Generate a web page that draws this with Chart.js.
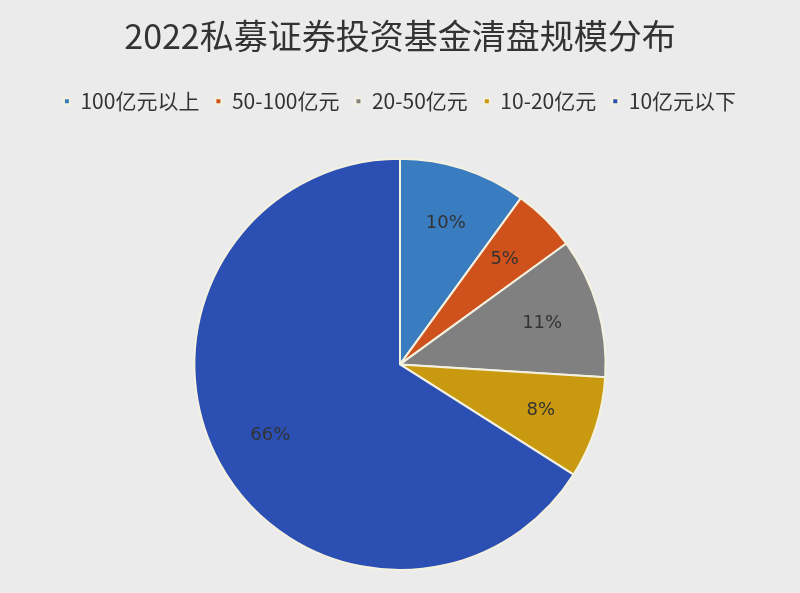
<!DOCTYPE html>
<html>
<head>
<meta charset="utf-8">
<script src="https://cdn.jsdelivr.net/npm/chart.js@4"></script>
<style>
  html, body { margin: 0; padding: 0; background: #ebebeb; }
  #wrap { width: 800px; height: 593px; }
</style>
</head>
<body>
<div id="wrap"><canvas id="pie"></canvas></div>
<script>
// 2022 私募证券投资基金清盘规模分布
const categories = ['100亿元以上', '50-100亿元', '20-50亿元', '10-20亿元', '10亿元以下'];
const shares = [10, 5, 11, 8, 66];
const colors = ['#3a7cc0', '#cf521c', '#808080', '#c99a10', '#2b4fb3'];

// draw the % labels inside each slice
const sliceLabels = {
    id: 'sliceLabels',
    afterDatasetsDraw(chart) {
        const ctx = chart.ctx;
        const meta = chart.getDatasetMeta(0);
        ctx.save();
        ctx.font = '18px "DejaVu Sans", sans-serif';
        ctx.fillStyle = '#333';
        ctx.textAlign = 'center';
        ctx.textBaseline = 'middle';
        meta.data.forEach((arc, i) => {
            const mid = (arc.startAngle + arc.endAngle) / 2;
            const r = arc.outerRadius * (i === 4 ? 0.72 : 0.72);
            ctx.fillText(shares[i] + '%', arc.x + Math.cos(mid) * r, arc.y + Math.sin(mid) * r);
        });
        ctx.restore();
    }
};

// extra gap under the legend
const legendGap = {
    id: 'legendGap',
    beforeInit(chart) {
        const fit = chart.legend.fit;
        chart.legend.fit = function () {
            fit.bind(chart.legend)();
            this.height += 36;
        };
    }
};

new Chart(document.getElementById('pie'), {
    type: 'pie',
    data: {
        labels: categories,
        datasets: [{
            data: shares,
            backgroundColor: colors,
            borderColor: '#f4f1e0',
            borderWidth: 2
        }]
    },
    options: {
        responsive: true,
        maintainAspectRatio: false,
        animation: false,
        layout: { padding: { top: 0, bottom: 22, left: 0, right: 0 } },
        plugins: {
            title: {
                display: true,
                text: '2022私募证券投资基金清盘规模分布',
                color: '#333',
                font: { size: 34, family: '"Noto Sans CJK SC", sans-serif', weight: 'normal' },
                padding: { top: 16, bottom: 18 }
            },
            legend: {
                position: 'top',
                labels: {
                    color: '#333',
                    boxWidth: 6, boxHeight: 6,
                    padding: 16,
                    font: { size: 21, family: '"Noto Sans CJK SC", sans-serif' }
                }
            },
            tooltip: { enabled: false }
        }
    },
    plugins: [sliceLabels, legendGap]
});
</script>
</body>
</html>
